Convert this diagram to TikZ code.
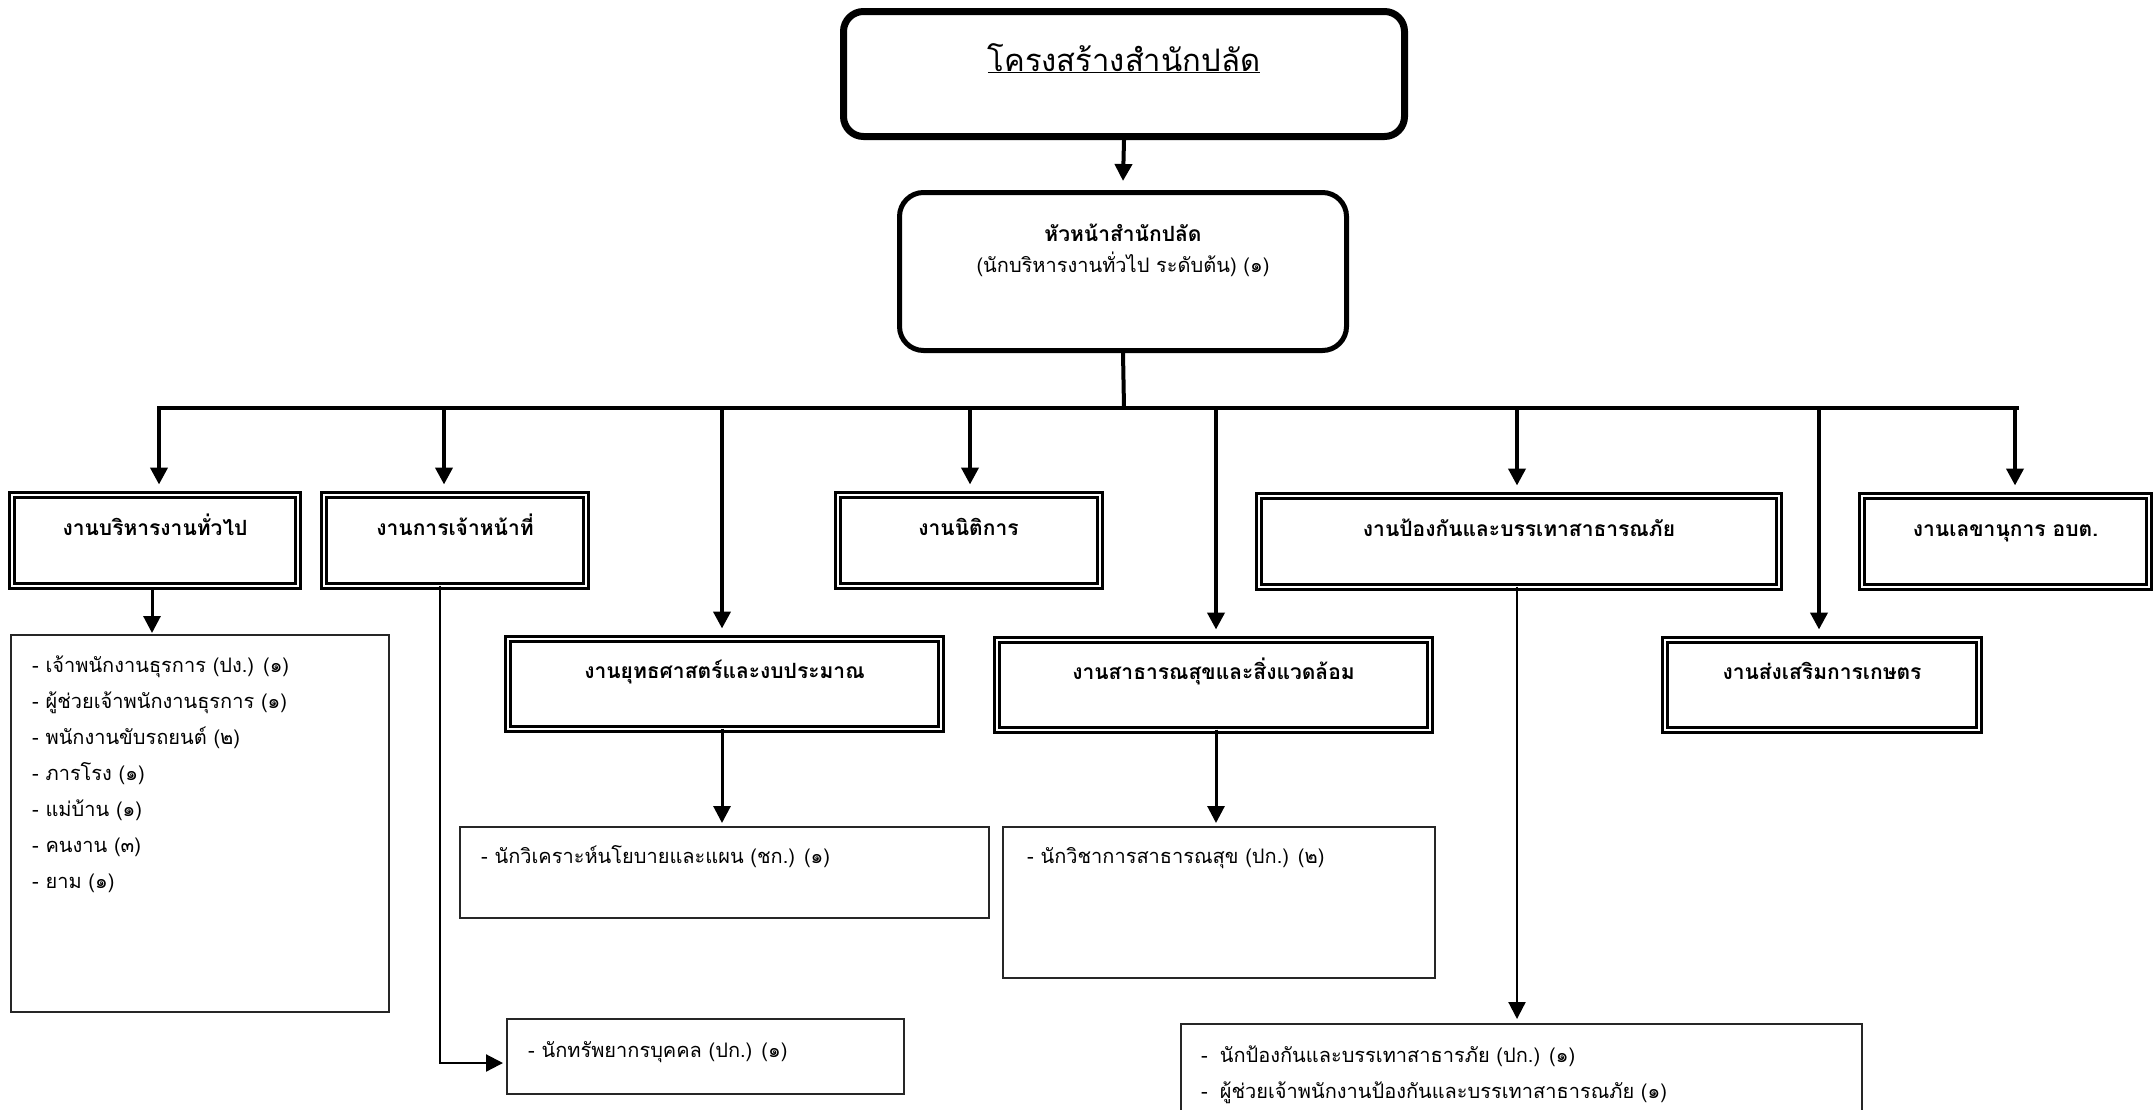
\documentclass[tikz,border=0pt]{standalone}
\usepackage{fontspec}
\newfontfamily\thai[Script=Thai]{Loma}
\usetikzlibrary{arrows.meta,calc}
\begin{document}
\begin{tikzpicture}[x=1pt,y=-1pt,
  every node/.style={font=\thai},
  dbox/.style={draw, double, line width=3pt, double distance=2pt, inner sep=0pt, outer sep=0pt},
  lbox/.style={draw=black!85, line width=2pt, inner sep=0pt, outer sep=0pt},
  ttl/.style={anchor=base, inner sep=0pt, font=\thai\bfseries\fontsize{21}{25}\selectfont},
  ltxt/.style={anchor=base west, inner sep=0pt, font=\thai\fontsize{20}{24}\selectfont},
  bus/.style={line width=4pt},
  arr/.style={line width=4pt, -{Triangle[width=17pt,length=17pt]}},
  arrm/.style={line width=3pt, -{Triangle[width=17pt,length=17pt]}},
  arrs/.style={line width=2.2pt, -{Triangle[width=17pt,length=17pt]}}
]
\path[use as bounding box] (0,0) rectangle (2154,1109);
\clip (0,0) rectangle (2154,1109);

% title
\node[draw, line width=7pt, rounded corners=20pt, minimum width=561pt, minimum height=125pt, inner sep=0pt] (title) at (1124,74) {};
\node[anchor=base, inner sep=0pt, font=\thai\fontsize{31}{37}\selectfont] (titletxt) at (1124,71) {\underline{โครงสร้างสำนักปลัด}};

% head
\node[draw, line width=5pt, rounded corners=24pt, minimum width=447pt, minimum height=158pt, inner sep=0pt] (head) at (1123,271.5) {};
\node[ttl] (headt1) at (1123,241) {หัวหน้าสำนักปลัด};
\node[anchor=base, inner sep=0pt, font=\thai\fontsize{20}{24}\selectfont] (headt2) at (1123,272.5) {(นักบริหารงานทั่วไป ระดับต้น) (๑)};

\draw[arr] (title.south) -- ($(head.north)+(0,-9)$);

% bus
\coordinate (busL) at (159,408);
\coordinate (busR) at (2017,408);
\coordinate (busM) at (1124,408);
\draw[bus] (head.south) -- (busM);
\draw[bus, line cap=rect] (busL) -- (busR);

% row 1 boxes
\node[dbox, minimum width=286pt, minimum height=91pt] (g1) at (155,540) {};
\node[dbox, minimum width=262pt, minimum height=91pt] (g2) at (455,540) {};
\node[dbox, minimum width=262pt, minimum height=91pt] (g3) at (968.5,540) {};
\node[dbox, minimum width=520pt, minimum height=91pt] (g4) at (1519,541) {};
\node[dbox, minimum width=287pt, minimum height=91pt] (g5) at (2005.5,541) {};
% row 2 boxes
\node[dbox, minimum width=433pt, minimum height=90pt] (h1) at (724.5,683.5) {};
\node[dbox, minimum width=433pt, minimum height=90pt] (h2) at (1213.5,684.5) {};
\node[dbox, minimum width=314pt, minimum height=90pt] (h3) at (1822,684.5) {};

\node[ttl] (g1t) at ($(g1.north)+(0,41)$) {งานบริหารงานทั่วไป};
\node[ttl] (g2t) at ($(g2.north)+(0,41)$) {งานการเจ้าหน้าที่};
\node[ttl] (g3t) at ($(g3.north)+(0,41)$) {งานนิติการ};
\node[ttl] (g4t) at ($(g4.north)+(0,41)$) {งานป้องกันและบรรเทาสาธารณภัย};
\node[ttl] (g5t) at ($(g5.north)+(0,41)$) {งานเลขานุการ อบต.};
\node[ttl] (h1t) at ($(h1.north)+(0,40)$) {งานยุทธศาสตร์และงบประมาณ};
\node[ttl] (h2t) at ($(h2.north)+(0,40)$) {งานสาธารณสุขและสิ่งแวดล้อม};
\node[ttl] (h3t) at ($(h3.north)+(0,40)$) {งานส่งเสริมการเกษตร};

% drops
\coordinate (d1) at (159,408);
\coordinate (d2) at (444,408);
\coordinate (d3) at (722,408);
\coordinate (d4) at (970,408);
\coordinate (d5) at (1216,408);
\coordinate (d6) at (1517,408);
\coordinate (d7) at (1819,408);
\coordinate (d8) at (2015,408);
\draw[arr] (d1) -- ($(d1 |- g1.north)+(0,-10)$);
\draw[arr] (d2) -- ($(d2 |- g2.north)+(0,-10)$);
\draw[arr] (d4) -- ($(d4 |- g3.north)+(0,-10)$);
\draw[arr] (d6) -- ($(d6 |- g4.north)+(0,-10)$);
\draw[arr] (d8) -- ($(d8 |- g5.north)+(0,-10)$);
\draw[arr] (d3) -- ($(d3 |- h1.north)+(0,-10)$);
\draw[arr] (d5) -- ($(d5 |- h2.north)+(0,-10)$);
\draw[arr] (d7) -- ($(d7 |- h3.north)+(0,-10)$);

% lists
\node[lbox, minimum width=378pt, minimum height=377pt] (L1) at (200,823.5) {};
\node[lbox, minimum width=529pt, minimum height=91pt] (LY) at (724.5,872.5) {};
\node[lbox, minimum width=432pt, minimum height=151pt] (LS) at (1219,902.5) {};
\node[lbox, minimum width=397pt, minimum height=75pt] (LT) at (705.5,1056.5) {};
\node[lbox, minimum width=681pt, minimum height=106pt] (LP) at (1521.5,1077) {};

\node[ltxt] (l1a) at (32,672) {- เจ้าพนักงานธุรการ (ปง.) (๑)};
\node[ltxt] (l1b) at (32,708) {- ผู้ช่วยเจ้าพนักงานธุรการ (๑)};
\node[ltxt] (l1c) at (32,744) {- พนักงานขับรถยนต์ (๒)};
\node[ltxt] (l1d) at (32,780) {- ภารโรง (๑)};
\node[ltxt] (l1e) at (32,816) {- แม่บ้าน (๑)};
\node[ltxt] (l1f) at (32,852) {- คนงาน (๓)};
\node[ltxt] (l1g) at (32,888) {- ยาม (๑)};
\node[ltxt] (lya) at (481,863) {- นักวิเคราะห์นโยบายและแผน (ชก.) (๑)};
\node[ltxt] (lsa) at (1027,863) {- นักวิชาการสาธารณสุข (ปก.) (๒)};
\node[ltxt] (lta) at (528,1057) {- นักทรัพยากรบุคคล (ปก.) (๑)};
\node[ltxt] (lpa) at (1201,1062) {-\hspace{12pt}นักป้องกันและบรรเทาสาธารภัย (ปก.) (๑)};
\node[ltxt] (lpb) at (1201,1098) {-\hspace{12pt}ผู้ช่วยเจ้าพนักงานป้องกันและบรรเทาสาธารณภัย (๑)};

% lower connectors
\coordinate (e1) at (152,590);
\draw[arrm] (e1) -- ($(e1 |- L1.north)+(0,-2)$);
\draw[arrm] (h1.south -| d3) -- ($(d3 |- LY.north)+(0,-4)$);
\draw[arrm] (h2.south -| d5) -- ($(d5 |- LS.north)+(0,-4)$);
\draw[arrs] (g4.south -| d6) -- ($(d6 |- LP.north)+(0,-5)$);
\coordinate (c2) at (440,1063);
\draw[arrs] (c2 |- g2.south) -- (c2) -- ($(LT.west |- c2)+(-4,0)$);
\end{tikzpicture}
\end{document}
